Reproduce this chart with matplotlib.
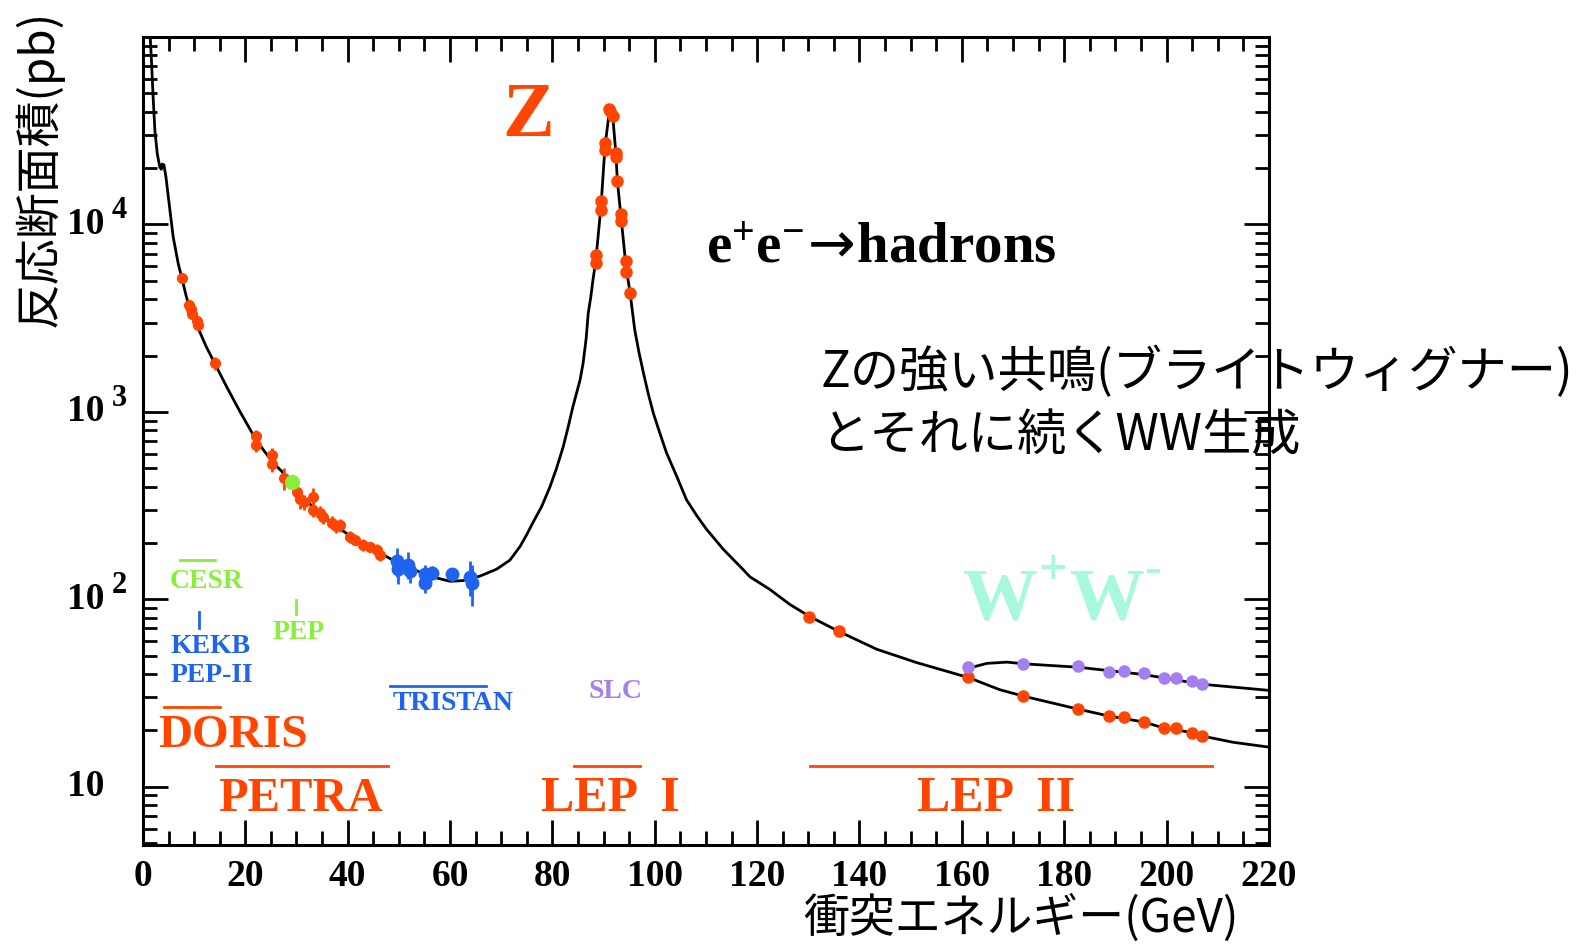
import matplotlib
matplotlib.use("Agg")
import matplotlib.pyplot as plt
import matplotlib.transforms as mtransforms
from matplotlib.ticker import MultipleLocator, LogLocator, NullFormatter

plt.rcParams['mathtext.fontset'] = 'custom'
plt.rcParams['mathtext.rm'] = 'Liberation Serif:bold'
plt.rcParams['mathtext.bf'] = 'Liberation Serif:bold'
plt.rcParams['mathtext.it'] = 'Liberation Serif:bold'
plt.rcParams['mathtext.sf'] = 'DejaVu Sans'

# e+e- -> hadrons total cross section (GeV, pb)
curve_E = [1.3, 1.37, 1.7, 2.0, 2.34, 2.8, 3.3, 3.6, 3.75, 4.1, 4.5, 5.28, 5.92, 6.9,
           7.56, 8.5, 9.6, 10.55, 12.3, 14.1, 16.5, 19.0, 22.1, 25.2, 29.1, 30.7, 34.0,
           37.1, 41.0, 44.4, 47.5, 50.2, 52.2, 54.7, 57.0, 60.0, 62.5, 65.8, 69.1, 71.7,
           73.7, 75.0, 76.2, 77.9, 79.5, 80.8, 82.1, 83.1, 84.0, 85.4, 86.0, 86.6, 87.0,
           87.5, 87.9, 88.5, 89.5, 90.3, 91.2, 91.8, 92.4, 92.7, 93.4, 94.4, 95.2, 95.6,
           96.1, 96.9, 97.8, 98.7, 99.7, 101.0, 102.3, 104.3, 106.2, 108.2, 110.1, 112.7,
           113.4, 117.3, 118.6, 122.5, 126.4, 130.3, 136.2, 143.4, 151.2, 161.3, 167.4,
           172.0, 182.7, 188.7, 195.5, 199.5, 205.0, 206.9, 213.0, 220.0]
curve_sigma = [1.3e5, 1.07e5, 71800, 47500, 31600, 23900, 20200, 19700, 21000, 20800,
               17900, 11900, 8560, 6180, 5240, 4100, 3300, 2900, 2250, 1800, 1340, 1000,
               710, 545, 425, 365, 296, 252, 214, 190, 170, 154, 147, 138, 131, 125, 126,
               133, 145, 162, 192, 222, 257, 313, 397, 500, 650, 836, 1064, 1480, 1820,
               2470, 3360, 4100, 5000, 6500, 12600, 26500, 41500, 37500, 24000, 17000,
               11000, 5900, 4290, 3490, 2730, 2090, 1610, 1260, 990, 770, 605, 453, 340,
               280, 237, 195, 185, 144, 132, 113, 94, 81, 67, 54.2, 46, 38.3, 33.0, 30.5,
               26.0, 23.9, 22.2, 20.6, 19.5, 18.7, 17.3, 16.3]

# hadrons including W pair production above threshold
ww_curve_E = [160.6, 161.9, 164.9, 168.8, 172.3, 182.7, 195.4, 206.9, 219.6, 220.0]
ww_curve_sigma = [42.5, 43.4, 45.6, 46.3, 45.3, 43.5, 39.8, 35.3, 32.8, 32.7]

# PETRA / DORIS / CESR region
low_E = [7.6, 9.0, 9.4, 9.6, 10.5, 10.7, 14.1, 22.1, 22.1, 25.2, 25.2, 27.5, 30.1, 30.7,
         31.5, 33.3, 33.3, 34.6, 35.2, 36.9, 37.8, 38.5, 40.5, 41.4, 43.0, 44.4, 45.7, 46.3]
low_sigma = [5200, 3700, 3550, 3350, 3050, 2900, 1820, 740, 665, 590, 525, 445, 376, 345,
             330, 350, 300, 290, 276, 257, 245, 250, 216, 208, 195, 190, 184, 172]
low_err = [250, 250, 200, 200, 180, 170, 150, 60, 50, 50, 45, 60, 45, 40, 30, 45, 25, 25,
           22, 20, 18, 20, 15, 14, 14, 12, 13, 12]

# PEP
pep_E = [29.1]
pep_sigma = [425]

# TRISTAN
tristan_E = [49.6, 49.8, 51.8, 52.2, 55.1, 55.1, 56.5, 60.4, 63.9, 64.3]
tristan_sigma = [160, 145, 153, 142, 136, 122, 139, 136, 132, 122]
tristan_err = [28, 24, 25, 20, 16, 14, 12, 10, 28, 30]

# LEP I scan around the Z
lep1_E = [88.5, 88.5, 89.5, 89.5, 90.3, 90.3, 91.05, 91.3, 91.8, 92.4, 92.4, 92.6,
          93.4, 93.4, 94.4, 94.4, 95.2]
lep1_sigma = [6840, 6200, 13400, 11900, 27300, 25000, 41400, 40500, 38000, 24200, 23000,
              17100, 11400, 10500, 6360, 5560, 4290]

# LEP II
lep2_E = [130.1, 136.0, 161.2, 172.0, 182.7, 188.7, 191.6, 195.5, 199.5, 201.8, 205.0, 206.9]
lep2_sigma = [81, 67.5, 38.5, 30.5, 26.0, 23.9, 23.6, 22.2, 20.6, 20.5, 19.5, 18.6]
lep2_ww_E = [161.2, 172.0, 182.7, 188.7, 191.6, 195.5, 199.5, 201.8, 205.0, 206.9]
lep2_ww_sigma = [43.5, 45.1, 44.0, 40.9, 41.4, 40.3, 38.0, 38.0, 36.6, 35.3]

RED = '#ff4500'
GREEN = '#8aee3c'
BLUE = '#1e64f0'
PURPLE = '#a57ef2'
MINT = '#a8f8dc'
SERIF = ['Liberation Serif', 'DejaVu Serif']
JP = ['Noto Sans CJK JP', 'DejaVu Sans']

fig = plt.figure(figsize=(15.88, 9.49), dpi=100)
ax = fig.add_axes([0.0900, 0.1096, 0.7091, 0.8514])

ax.plot(curve_E, curve_sigma, color='k', lw=2.0, zorder=2)
ax.plot(ww_curve_E, ww_curve_sigma, color='k', lw=2.0, zorder=2)

ax.errorbar(low_E, low_sigma, yerr=low_err, fmt='o', color=RED, ms=7, elinewidth=2,
            capsize=0, zorder=3)
ax.errorbar(tristan_E, tristan_sigma, yerr=tristan_err, fmt='o', color=BLUE, ms=9,
            elinewidth=2, capsize=0, zorder=3)
ax.plot(pep_E, pep_sigma, 'o', color=GREEN, ms=10, zorder=4)
ax.plot(lep1_E, lep1_sigma, 'o', color=RED, ms=8, zorder=3)
ax.plot(lep2_E, lep2_sigma, 'o', color=RED, ms=8, zorder=3)
ax.plot(lep2_ww_E, lep2_ww_sigma, 'o', color=PURPLE, ms=8, zorder=3)

ax.set_yscale('log')
ax.set_xlim(0, 220)
ax.set_ylim(4.9, 1.0e5)

ax.xaxis.set_major_locator(MultipleLocator(20))
ax.xaxis.set_minor_locator(MultipleLocator(5))
ax.yaxis.set_major_locator(LogLocator(base=10, numticks=10))
ax.yaxis.set_minor_locator(LogLocator(base=10, subs=range(2, 10), numticks=20))
ax.yaxis.set_major_formatter(NullFormatter())
ax.yaxis.set_minor_formatter(NullFormatter())
ax.tick_params(which='both', direction='in', top=True, right=True, width=2)
ax.tick_params(which='major', length=18)
ax.tick_params(which='minor', length=10)
ax.tick_params(axis='x', pad=10)
for sp in ax.spines.values():
    sp.set_linewidth(2.2)
for lab in ax.get_xticklabels():
    lab.set_fontfamily(SERIF)
    lab.set_fontweight('bold')
    lab.set_fontsize(27)

# y tick labels: "10" with a separate raised exponent
ytr = ax.get_yaxis_transform()
sup_tr = mtransforms.offset_copy(ytr, fig=fig, x=0, y=10, units='points')
for p in [1, 2, 3, 4]:
    ax.text(-0.034, 10 ** p, '10', transform=ytr, ha='right', va='center',
            family=SERIF, weight='bold', fontsize=27)
    if p > 1:
        ax.text(-0.028, 10 ** p, str(p), transform=sup_tr, ha='left', va='center',
                family=SERIF, weight='bold', fontsize=22)

fig.text(0.0243, 0.99, '反応断面積(pb)', rotation=90, ha='center', va='top',
         family=JP, fontsize=33)
fig.text(0.780, 0.032, '衝突エネルギー(GeV)', ha='right', va='center',
         family=JP, fontsize=33)

# accelerator ranges
ax.plot([7.3, 14.0], [163, 163], color=GREEN, lw=2)
ax.text(12.4, 124, 'CESR', color=GREEN, ha='center', va='center', family=SERIF,
        weight='bold', fontsize=20)
ax.plot([11.0, 11.0], [70.2, 85.7], color=BLUE, lw=2)
ax.text(13.2, 56.1, 'KEKB', color=BLUE, ha='center', va='center', family=SERIF,
        weight='bold', fontsize=20)
ax.text(13.4, 39.2, 'PEP-II', color=BLUE, ha='center', va='center', family=SERIF,
        weight='bold', fontsize=20)
ax.plot([30.0, 30.0], [83.4, 99.3], color=GREEN, lw=2)
ax.text(30.4, 66.7, 'PEP', color=GREEN, ha='center', va='center', family=SERIF,
        weight='bold', fontsize=20)
ax.plot([48.2, 67.0], [34.6, 34.6], color=BLUE, lw=2)
ax.text(60.5, 28.0, 'TRISTAN', color=BLUE, ha='center', va='center', family=SERIF,
        weight='bold', fontsize=20)
ax.text(92.4, 32.1, 'SLC', color=PURPLE, ha='center', va='center', family=SERIF,
        weight='bold', fontsize=20)
ax.plot([4.1, 15.0], [26.7, 26.7], color=RED, lw=2)
ax.text(17.6, 18.6, 'DORIS', color=RED, ha='center', va='center', family=SERIF,
        weight='bold', fontsize=34)
ax.plot([14.2, 47.9], [13.0, 13.0], color=RED, lw=2)
ax.text(30.8, 8.6, 'PETRA', color=RED, ha='center', va='center', family=SERIF,
        weight='bold', fontsize=35)
ax.plot([84.3, 97.1], [13.0, 13.0], color=RED, lw=2)
ax.text(91.4, 8.6, 'LEP  I', color=RED, ha='center', va='center', family=SERIF,
        weight='bold', fontsize=36)
ax.plot([130.4, 208.9], [13.0, 13.0], color=RED, lw=2)
ax.text(166.6, 8.6, 'LEP  II', color=RED, ha='center', va='center', family=SERIF,
        weight='bold', fontsize=36)

ax.text(75.2, 37000, 'Z', color=RED, ha='center', va='center', family=SERIF,
        weight='bold', fontsize=56)

# W+W- written piece by piece so the charges sit like the hand-set label
ax.text(160.2, 78.4, 'W', color=MINT, ha='left', va='baseline', family=SERIF,
        weight='bold', fontsize=54)
ax.text(177.8, 140, '+', color=MINT, ha='center', va='center', family=SERIF,
        weight='bold', fontsize=36)
ax.text(181.1, 78.4, 'W', color=MINT, ha='left', va='baseline', family=SERIF,
        weight='bold', fontsize=54)
ax.text(197.3, 142, '-', color=MINT, ha='center', va='center', family=SERIF,
        weight='bold', fontsize=36)

ax.text(110.0, 7450, 'e$^{+}$e$^{-}$$\\!\\mathsf{\\rightarrow}\\!$hadrons', color='k',
        ha='left', va='center', family=SERIF, weight='bold', fontsize=41)
ax.text(132.3, 1611, 'Zの強い共鳴(ブライトウィグナー)', color='k', ha='left',
        va='center', family=JP, fontsize=35.5)
ax.text(132.3, 745, 'とそれに続くWW生成', color='k', ha='left', va='center',
        family=JP, fontsize=35.5)

fig.savefig('out.png', dpi=100)
